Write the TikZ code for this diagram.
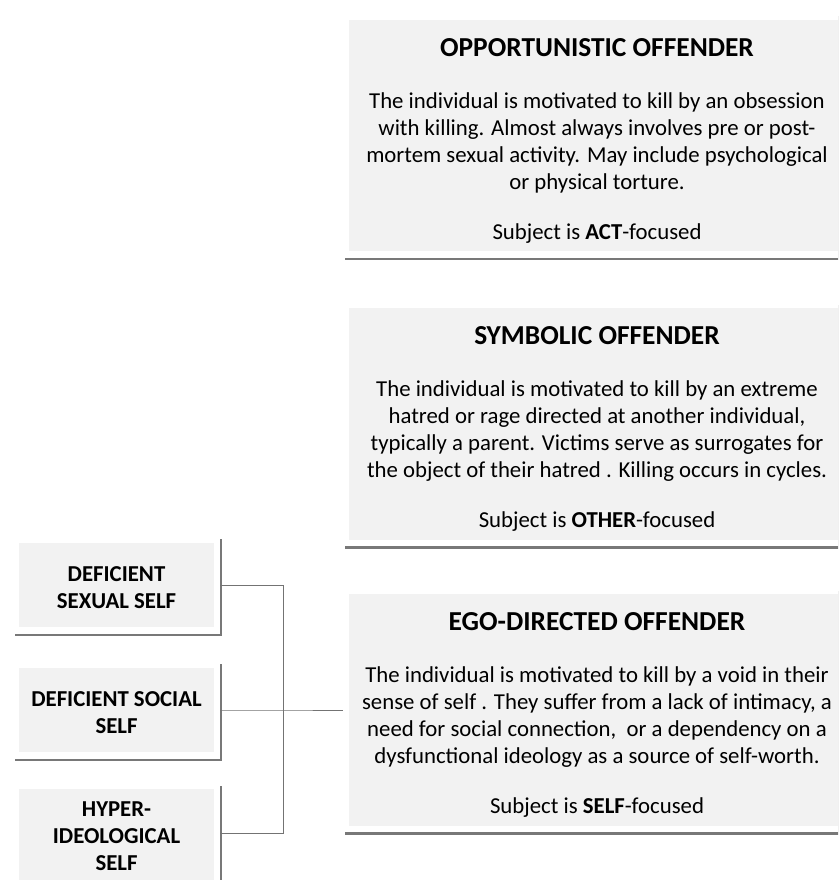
\documentclass[tikz,border=0pt]{standalone}
\usepackage{fontspec}
\setmainfont{Carlito}
\usepackage{tikz}
\usetikzlibrary{shadows}
\usetikzlibrary{calc}
\tikzstyle{panel}=[rectangle,fill=white,inner sep=0pt,
  drop shadow={shadow xshift=1.2pt,shadow yshift=-2pt,fill=black!70,opacity=0.75},
  path picture={\fill[black!5] ([shift={(4.5pt,-4.5pt)}]path picture bounding box.north west)
     rectangle ([shift={(-4.5pt,4.5pt)}]path picture bounding box.south east);}]
\tikzstyle{offender}=[panel,minimum width=12.7cm,minimum height=6.1cm]
\tikzstyle{selfbox}=[panel,minimum width=5.175cm,minimum height=2.425cm]
\tikzstyle{bodytext}=[inner sep=0pt,align=center,font=\fontsize{16.2}{19.2}\selectfont]
\tikzstyle{selftext}=[bodytext,font=\fontsize{16.2}{19.2}\selectfont\bfseries]
\tikzstyle{link}=[draw=black!55,line width=0.6pt]
\newcommand{\headline}[1]{{\fontsize{19.5}{19.2}\selectfont\bfseries #1}}

\begin{document}
\begin{tikzpicture}[x=0.025cm,y=-0.025cm]

   \fill[white] (0,0) rectangle (838,880);
   \useasboundingbox (0,0) rectangle (838,880);
   \clip (0,0) rectangle (838,880);

    \foreach \pos/ \name / \label in {{(597,135.5)/opport/{\headline{OPPORTUNISTIC OFFENDER}\\[0.625cm]
        The individual is motivated to kill by an obsession\\
        with killing. Almost always involves pre or post-\\
        mortem sexual activity. May include psychological\\
        or physical torture.\\[0.575cm]
        Subject is \textbf{ACT}-focused}},
      {(597,424)/symbolic/{\headline{SYMBOLIC OFFENDER}\\[0.625cm]
        The individual is motivated to kill by an extreme\\
        hatred or rage directed at another individual,\\
        typically a parent. Victims serve as surrogates for\\
        the object of their hatred . Killing occurs in cycles.\\[0.575cm]
        Subject is \textbf{OTHER}-focused}},
      {(597,710)/ego/{\headline{EGO-DIRECTED OFFENDER}\\[0.625cm]
        The individual is motivated to kill by a void in their\\
        sense of self . They suffer from a lack of intimacy, a\\
        need for social connection,\ \ or a dependency on a\\
        dysfunctional ideology as a source of self-worth.\\[0.575cm]
        Subject is \textbf{SELF}-focused}}}
    {
        \node[offender] (\name) at \pos {};
        \node[bodytext,yshift=-3.55pt] (\name-text) at \pos {\label};
    }

    \foreach \pos/ \name / \label in {{(116.5,585)/sexual/{DEFICIENT\\SEXUAL SELF}},
      {(116.5,710)/social/{DEFICIENT SOCIAL\\SELF}}}
    {
        \node[selfbox] (\name) at \pos {};
        \node[selftext,yshift=-2.1pt] (\name-text) at \pos {\label};
    }
    \node[selfbox,minimum height=2.65cm] (ideo) at (116.5,836) {};
    \node[selftext] (ideo-text) at (116.5,836) {HYPER-\\IDEOLOGICAL\\SELF};

   \coordinate (join) at ($(social.east)+(63,0)$);
   \draw[link] (sexual.east) -| (join);
   \draw[link] ([yshift=2pt]ideo.east) -| (join);
   \draw[link] (social.east) -- (join) -- (ego.west);
\end{tikzpicture}
\end{document}
